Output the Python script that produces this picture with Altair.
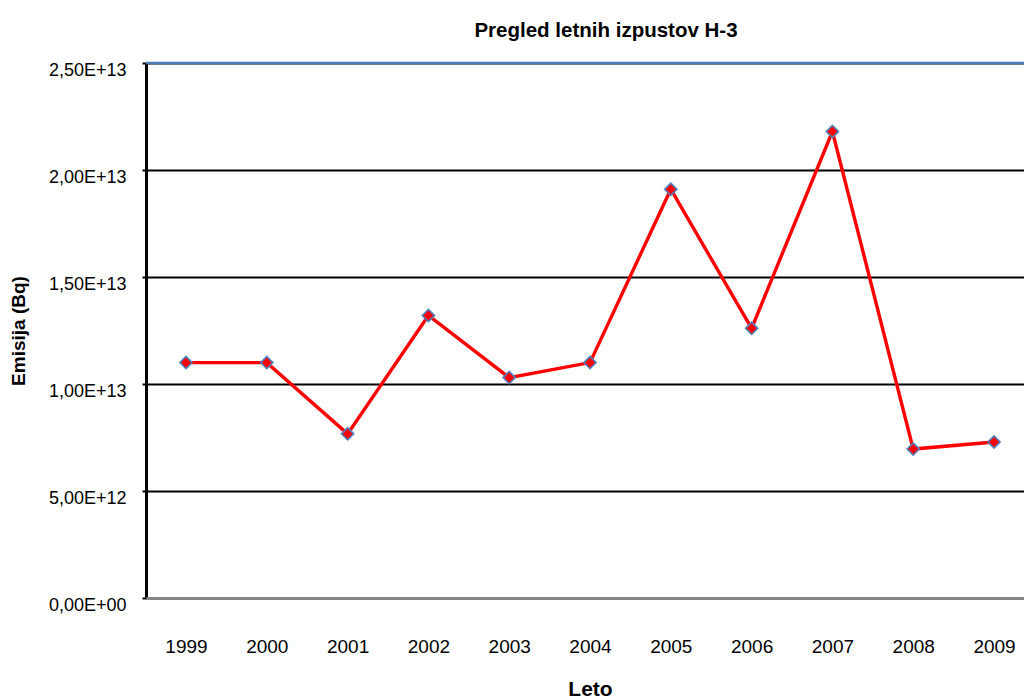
import altair as alt
import pandas as pd

# Annual H-3 emissions (Bq)
years = [1999, 2000, 2001, 2002, 2003, 2004, 2005, 2006, 2007, 2008, 2009]
emission_bq = [1.10e13, 1.10e13, 7.67e12, 1.32e13, 1.03e13, 1.10e13,
               1.91e13, 1.26e13, 2.18e13, 6.96e12, 7.29e12]

# Y axis ticks and their spreadsheet-style labels
y_ticks = [0, 5e12, 1e13, 1.5e13, 2e13, 2.5e13]
y_tick_labels = ["0,00E+00", "5,00E+12", "1,00E+13", "1,50E+13", "2,00E+13", "2,50E+13"]

df = pd.DataFrame({"Leto": years, "Emisija": emission_bq})
top_df = pd.DataFrame({"Emisija": [y_ticks[-1]]})

# label lookup expression built from the tick lists
label_expr = "''"
for v, lab in zip(reversed(y_ticks), reversed(y_tick_labels)):
    label_expr = f"datum.value == {v!r} ? '{lab}' : ({label_expr})"

FONT = "Liberation Sans"
PLOT_W, PLOT_H = 878, 535

x_enc = alt.X(
    "Leto:Q",
    scale=alt.Scale(domain=[1998.505, 2009.371], nice=False, zero=False),
    axis=alt.Axis(
        values=years, format="d", title="Leto", grid=False, ticks=False,
        domainColor="#868686", domainWidth=3, labelFlush=False,
        labelFont=FONT, labelFontSize=19, labelColor="black",
        labelBaseline="alphabetic", labelPadding=54,
        titleFont=FONT, titleFontSize=21, titleFontWeight="bold", titleColor="black",
        titleBaseline="alphabetic", titleX=444, titleY=97, zindex=1,
    ),
)

y_scale = alt.Scale(domain=[y_ticks[0], y_ticks[-1]], nice=False, zero=True)
y_enc = alt.Y(
    "Emisija:Q",
    scale=y_scale,
    axis=alt.Axis(
        values=y_ticks, labelExpr=label_expr, title="Emisija (Bq)",
        domainColor="black", domainWidth=3,
        tickColor="black", tickWidth=2, tickSize=4,
        gridColor="black", gridWidth=2,
        labelFont=FONT, labelFontSize=18, labelColor="black", labelPadding=16,
        labelOffset=7,
        titleFont=FONT, titleFontSize=19, titleFontWeight="bold", titleColor="black",
        titleAngle=270, titleX=-118, titleY=PLOT_H / 2,
    ),
)

line = alt.Chart(df).mark_line(color="#FF0000", strokeWidth=3.4).encode(x=x_enc, y=y_enc)

points = alt.Chart(df).mark_point(
    shape="diamond", filled=True, fill="#FF0000", stroke="#4F81BD",
    strokeWidth=1.6, size=150, opacity=1,
).encode(x="Leto:Q", y="Emisija:Q")

# blue border along the top of the plot area
top_border = alt.Chart(top_df).mark_rule(color="#4A7EBB", strokeWidth=2.5).encode(
    y=alt.Y("Emisija:Q", scale=y_scale)
)

chart = (
    alt.layer(top_border, line, points)
    .properties(
        width=PLOT_W,
        height=PLOT_H,
        title=alt.Title(
            "Pregled letnih izpustov H-3", font=FONT, fontSize=20.5, fontWeight="bold",
            color="black", anchor="middle", dx=21, offset=20,
        ),
        autosize=alt.AutoSizeParams(type="none"),
        padding={"left": 146, "top": 63, "right": 0, "bottom": 100},
    )
    .configure_view(stroke=None)
    .configure(background="white")
)

chart.save("out.html", embed_options={"renderer": "svg", "actions": False})
